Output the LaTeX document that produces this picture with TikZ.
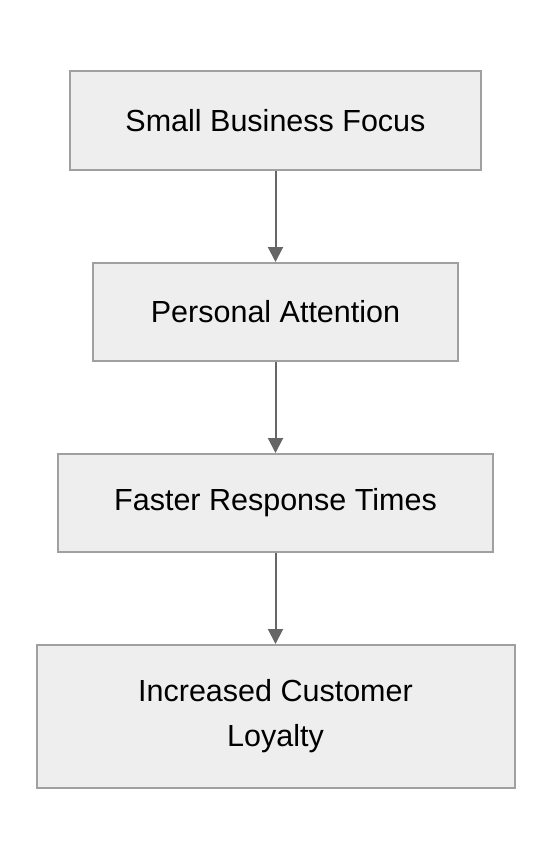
\documentclass[tikz,border=0pt]{standalone}
\usepackage{fontspec}
\setmainfont{Liberation Sans}
\usetikzlibrary{arrows.meta}
\definecolor{boxfill}{HTML}{EEEEEE}
\definecolor{boxline}{HTML}{A0A0A0}
\definecolor{arrowc}{HTML}{666666}
\tikzset{
  flowbox/.style={draw=boxline, line width=2pt, fill=boxfill, rectangle, inner sep=0pt, align=center,
    font=\fontsize{30.5}{45}\selectfont},
  flowarrow/.style={draw=arrowc, line width=2pt, -{Triangle[length=15pt,width=15pt]}}
}
\begin{document}
\begin{tikzpicture}[x=1pt,y=1pt]
\useasboundingbox (0,0) rectangle (552,-860);
\node[flowbox, minimum width=411pt, minimum height=99pt] (a) at (275.5,-120.5) {Small Business Focus};
\node[flowbox, minimum width=365pt, minimum height=98pt] (b) at (275.5,-312) {Personal Attention};
\node[flowbox, minimum width=435pt, minimum height=98pt] (c) at (275.5,-503) {Faster Response Times};
\node[flowbox, minimum width=478pt, minimum height=143pt] (d) at (275.5,-716.5) {Increased Customer\\Loyalty};
\draw[flowarrow] (a.south) -- (b.north);
\draw[flowarrow] (b.south) -- (c.north);
\draw[flowarrow] (c.south) -- (d.north);
\end{tikzpicture}
\end{document}
